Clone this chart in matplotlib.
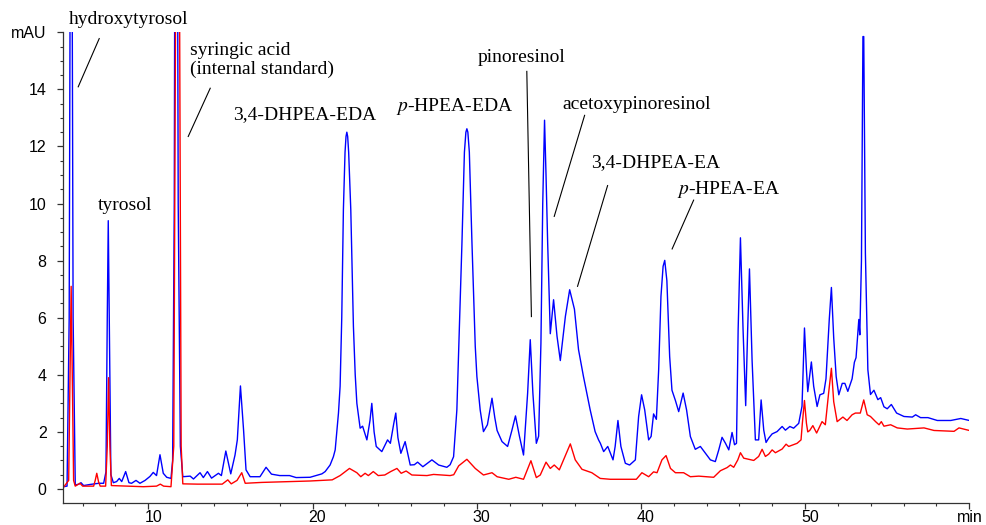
import matplotlib
matplotlib.use("Agg")
import matplotlib.pyplot as plt
import matplotlib.transforms as mtransforms
from matplotlib.ticker import MultipleLocator

# retention time (min) / absorbance (mAU)
blue_t = [4.82, 5.05, 5.18, 5.30, 5.42, 5.55, 5.77, 5.90, 6.06, 6.47, 6.98, 7.28,
          7.42, 7.50, 7.56, 7.62, 7.72, 7.87, 8.07, 8.23, 8.38, 8.62, 8.82, 8.98,
          9.25, 9.49, 9.80, 10.10, 10.30, 10.50, 10.71, 10.91, 11.12, 11.38, 11.48,
          11.58, 11.69, 11.82, 11.95, 12.10, 12.55, 12.75, 13.15, 13.35, 13.60,
          13.85, 14.27, 14.45, 14.72, 15.02, 15.28, 15.42, 15.61, 15.80, 15.95,
          16.20, 16.80, 17.17, 17.50, 18.00, 18.60, 19.00, 19.85, 20.57, 20.77,
          21.07, 21.27, 21.38, 21.58, 21.68, 21.78, 21.88, 21.98, 22.04, 22.09,
          22.14, 22.20, 22.33, 22.49, 22.60, 22.70, 22.90, 23.05, 23.31, 23.50,
          23.61, 23.75, 23.88, 24.22, 24.57, 24.74, 24.95, 25.07, 25.20, 25.38,
          25.64, 25.95, 26.20, 26.40, 26.72, 27.27, 27.68, 28.18, 28.38, 28.59,
          28.79, 29.10, 29.25, 29.34, 29.40, 29.46, 29.55, 29.71, 29.91, 30.01,
          30.21, 30.41, 30.65, 30.93, 31.10, 31.24, 31.54, 31.88, 32.14, 32.36,
          32.60, 32.85, 33.10, 33.26, 33.42, 33.63, 33.77, 33.91, 34.02, 34.13,
          34.22, 34.32, 34.48, 34.68, 34.89, 35.09, 35.25, 35.40, 35.66, 35.95,
          36.20, 36.50, 36.70, 36.91, 37.21, 37.42, 37.53, 37.73, 37.98, 38.30,
          38.43, 38.60, 38.78, 39.05, 39.31, 39.66, 39.86, 40.04, 40.23, 40.47,
          40.62, 40.77, 40.94, 41.08, 41.22, 41.35, 41.45, 41.58, 41.75, 41.89,
          42.10, 42.30, 42.57, 42.78, 43.01, 43.31, 43.62, 43.92, 44.23, 44.53,
          44.74, 44.94, 45.15, 45.35, 45.55, 45.70, 45.82, 45.92, 46.06, 46.22,
          46.38, 46.50, 46.61, 46.77, 46.97, 47.17, 47.32, 47.48, 47.62, 47.78,
          47.99, 48.29, 48.60, 48.80, 49.07, 49.30, 49.61, 49.81, 49.96, 50.08,
          50.16, 50.38, 50.52, 50.73, 50.90, 51.13, 51.27, 51.47, 51.60, 51.74,
          51.89, 52.05, 52.26, 52.42, 52.60, 52.86, 53.00, 53.10, 53.27, 53.33,
          53.43, 53.52, 53.57, 53.67, 53.82, 53.98, 54.19, 54.43, 54.60, 54.80,
          55.00, 55.25, 55.57, 56.02, 56.53, 56.73, 57.03, 57.48, 58.05, 58.87,
          59.48, 60.00]
blue_v = [0.08, 0.10, 6.0, 30.0, 6.0, 0.14, 0.17, 0.22, 0.12, 0.16, 0.20, 0.20,
          0.6, 6.0, 9.4, 6.0, 0.5, 0.22, 0.26, 0.37, 0.26, 0.61, 0.22, 0.20,
          0.30, 0.20, 0.30, 0.44, 0.58, 0.47, 1.20, 0.55, 0.41, 0.37, 1.0,
          10.0, 40.0, 10.0, 1.5, 0.43, 0.45, 0.35, 0.57, 0.40, 0.61,
          0.38, 0.55, 0.47, 1.33, 0.53, 1.19, 1.72, 3.61, 2.07, 0.67,
          0.43, 0.43, 0.76, 0.52, 0.47, 0.47, 0.40, 0.41, 0.53, 0.61,
          0.84, 1.13, 1.37, 2.66, 3.6, 6.0, 9.79, 11.8, 12.35, 12.5,
          12.35, 11.8, 9.79, 5.7, 4.0, 3.0, 2.13, 2.2, 1.72, 2.4,
          3.0, 2.0, 1.49, 1.31, 1.72, 1.6, 2.3, 2.66, 1.8, 1.25,
          1.66, 0.84, 0.85, 0.94, 0.78, 1.02, 0.84, 0.76, 0.85, 1.13,
          2.77, 8.62, 11.8, 12.5, 12.62, 12.5, 11.8, 8.62, 5.0, 3.94,
          2.77, 2.01, 2.25, 3.18, 2.5, 2.05, 1.66, 1.49, 2.05, 2.56,
          1.85, 1.19, 3.36, 5.23, 3.36, 1.6, 1.85, 5.11, 10.0, 12.92,
          11.0, 8.62, 5.44, 6.63, 5.35, 4.5, 5.3, 6.05, 6.98, 6.3,
          4.88, 3.94, 3.36, 2.77, 2.01, 1.72, 1.6, 1.31, 1.49, 1.02,
          1.49, 2.4, 1.49, 0.9, 0.84, 1.02, 2.54, 3.3, 2.77, 1.72,
          1.84, 2.63, 2.44, 4.18, 6.75, 7.8, 8.01, 7.3, 4.64, 3.46,
          3.1, 2.71, 3.36, 2.77, 1.84, 1.39, 1.49, 1.26, 1.02, 0.96,
          1.37, 1.81, 1.6, 1.37, 1.98, 1.55, 1.6, 5.58, 8.8, 5.58,
          2.92, 5.58, 7.71, 4.5, 1.72, 1.72, 3.12, 2.06, 1.63, 1.78,
          1.93, 2.01, 2.19, 2.06, 2.19, 2.13, 2.3, 2.9, 5.64, 4.17,
          3.41, 4.45, 3.6, 2.89, 3.3, 3.35, 3.86, 5.94, 7.06, 5.3,
          3.94, 3.3, 3.7, 3.7, 3.42, 3.86, 4.44, 4.6, 5.94, 5.4,
          8.0, 15.85, 15.85, 8.27, 4.18, 3.31, 3.46, 3.13, 3.2, 2.88,
          2.81, 2.96, 2.66, 2.54, 2.52, 2.6, 2.5, 2.5, 2.4, 2.4,
          2.47, 2.4]

red_t = [4.82, 5.15, 5.30, 5.45, 5.55, 5.84, 6.00, 6.67, 6.77, 6.86, 6.97, 7.07,
         7.40, 7.50, 7.58, 7.66, 7.75, 8.68, 9.70, 10.50, 10.73, 10.93, 11.38,
         11.55, 11.79, 12.00, 12.10, 13.00, 14.50, 14.84, 15.05, 15.40, 15.69,
         15.90, 16.90, 19.85, 21.20, 21.68, 22.25, 22.70, 22.94, 23.20, 23.40,
         23.70, 24.00, 24.40, 24.76, 25.14, 25.40, 25.70, 26.05, 26.97, 27.37,
         28.38, 28.60, 28.90, 29.40, 29.91, 30.41, 30.93, 31.24, 31.95, 32.38,
         32.85, 33.30, 33.63, 33.87, 34.22, 34.48, 34.72, 35.03, 35.70, 36.00,
         36.41, 37.01, 37.52, 38.13, 39.72, 40.06, 40.47, 40.77, 40.98, 41.28,
         41.53, 41.80, 42.10, 42.60, 43.01, 43.52, 44.43, 44.84, 45.25, 45.45,
         45.65, 45.90, 46.06, 46.26, 46.87, 47.17, 47.38, 47.58, 47.78, 47.99,
         48.19, 48.60, 48.84, 49.00, 49.51, 49.75, 49.83, 49.96, 50.08, 50.16,
         50.28, 50.47, 50.70, 51.03, 51.23, 51.43, 51.60, 51.74, 51.95, 52.30,
         52.55, 52.86, 53.06, 53.36, 53.57, 53.78, 53.98, 54.29, 54.50, 54.64,
         54.80, 55.21, 55.61, 56.22, 57.24, 57.85, 59.07, 59.37, 60.00]
red_v = [0.05, 0.3, 7.1, 0.3, 0.10, 0.20, 0.10, 0.10, 0.31, 0.55, 0.25, 0.10,
         0.10, 1.5, 3.9, 1.5, 0.12, 0.10, 0.08, 0.10, 0.17, 0.10, 0.08,
         1.5, 35.0, 1.5, 0.18, 0.17, 0.17, 0.32, 0.18, 0.30, 0.57,
         0.20, 0.23, 0.28, 0.32, 0.47, 0.72, 0.57, 0.43, 0.55, 0.47,
         0.61, 0.47, 0.49, 0.61, 0.72, 0.55, 0.63, 0.49, 0.47, 0.51,
         0.47, 0.5, 0.81, 1.04, 0.72, 0.49, 0.57, 0.43, 0.34, 0.41,
         0.34, 0.99, 0.40, 0.49, 0.94, 0.72, 0.84, 0.67, 1.58, 1.02,
         0.69, 0.57, 0.37, 0.34, 0.34, 0.57, 0.43, 0.60, 0.57, 1.02,
         1.17, 0.72, 0.57, 0.57, 0.43, 0.45, 0.41, 0.64, 0.75, 0.84,
         0.76, 1.02, 1.27, 1.08, 1.0, 1.14, 1.39, 1.14, 1.22, 1.37,
         1.27, 1.40, 1.57, 1.49, 1.6, 1.72, 2.3, 3.1, 2.3, 2.0,
         2.05, 2.22, 1.96, 2.36, 2.25, 3.36, 4.23, 3.06, 2.36, 2.52,
         2.4, 2.6, 2.66, 2.66, 3.12, 2.6, 2.54, 2.36, 2.25, 2.36,
         2.2, 2.25, 2.14, 2.1, 2.14, 2.05, 2.02, 2.14, 2.05]

x_ticks = [10, 20, 30, 40, 50, 60]
x_labels = ["10", "20", "30", "40", "50", "min"]
y_ticks = [0, 2, 4, 6, 8, 10, 12, 14, 16]
y_labels = ["0", "2", "4", "6", "8", "10", "12", "14", "mAU"]

plt.rcParams["font.family"] = ["Liberation Sans", "DejaVu Sans"]
plt.rcParams["mathtext.fontset"] = "stix"

fig = plt.figure(figsize=(9.87, 5.25), dpi=100)
ax = fig.add_axes([0.0641, 0.0425, 0.918, 0.896])

ax.plot(blue_t, blue_v, color="#0000ff", lw=1.0)
ax.plot(red_t, red_v, color="#ff0000", lw=1.0)

ax.set_xlim(4.82, 60)
ax.set_ylim(-0.48, 16)
for s in ["top", "right"]:
    ax.spines[s].set_visible(False)
for s in ["left", "bottom"]:
    ax.spines[s].set_color("#333333")
    ax.spines[s].set_linewidth(0.9)

ax.set_xticks(x_ticks)
ax.set_xticklabels(x_labels)
ax.set_yticks(y_ticks)
ax.set_yticklabels(y_labels)
ax.xaxis.set_minor_locator(MultipleLocator(2))
ax.yaxis.set_minor_locator(MultipleLocator(0.5))
ax.tick_params(which="major", length=4, width=0.9, color="#333333",
               labelsize=11.5)
ax.tick_params(axis="x", which="major", pad=1)
ax.tick_params(axis="y", which="major", pad=8)
ax.tick_params(which="minor", length=2.5, width=0.8, color="#333333")

# the numbers sit a little right of their ticks in the reference
shift = mtransforms.ScaledTranslation(5 / 100, 0, fig.dpi_scale_trans)
for lab in ax.get_xticklabels()[:-1]:
    lab.set_transform(lab.get_transform() + shift)

# peak labels and leader lines
serif = dict(fontsize=14, family=["Liberation Serif", "DejaVu Serif"],
             ha="center", va="center")
ax.text(8.82, 16.46, "hydroxytyrosol", **serif)
ax.text(8.55, 9.93, "tyrosol", **serif)
ax.text(12.55, 15.02, "syringic acid\n(internal standard)",
        fontsize=14, family=["Liberation Serif", "DejaVu Serif"],
        ha="left", va="center", linespacing=1.15)
ax.text(19.5, 13.12, "3,4-DHPEA-EDA", **serif)
ax.text(28.66, 13.4, r"$\it{p}$-HPEA-EDA", **serif)
ax.text(32.74, 15.12, "pinoresinol", **serif)
ax.text(39.75, 13.47, "acetoxypinoresinol", **serif)
ax.text(40.88, 11.44, "3,4-DHPEA-EA", **serif)
ax.text(45.33, 10.49, r"$\it{p}$-HPEA-EA", **serif)

leaders = [((7.01, 15.78), (5.73, 14.09)),
           ((13.77, 14.04), (12.43, 12.35)),
           ((33.05, 14.63), (33.33, 6.04)),
           ((36.57, 13.09), (34.72, 9.55)),
           ((37.97, 10.63), (36.14, 7.1)),
           ((43.21, 10.12), (41.9, 8.41))]
for (x0, y0), (x1, y1) in leaders:
    ax.plot([x0, x1], [y0, y1], color="black", lw=0.8, clip_on=False)

fig.savefig("out.png", dpi=100)
